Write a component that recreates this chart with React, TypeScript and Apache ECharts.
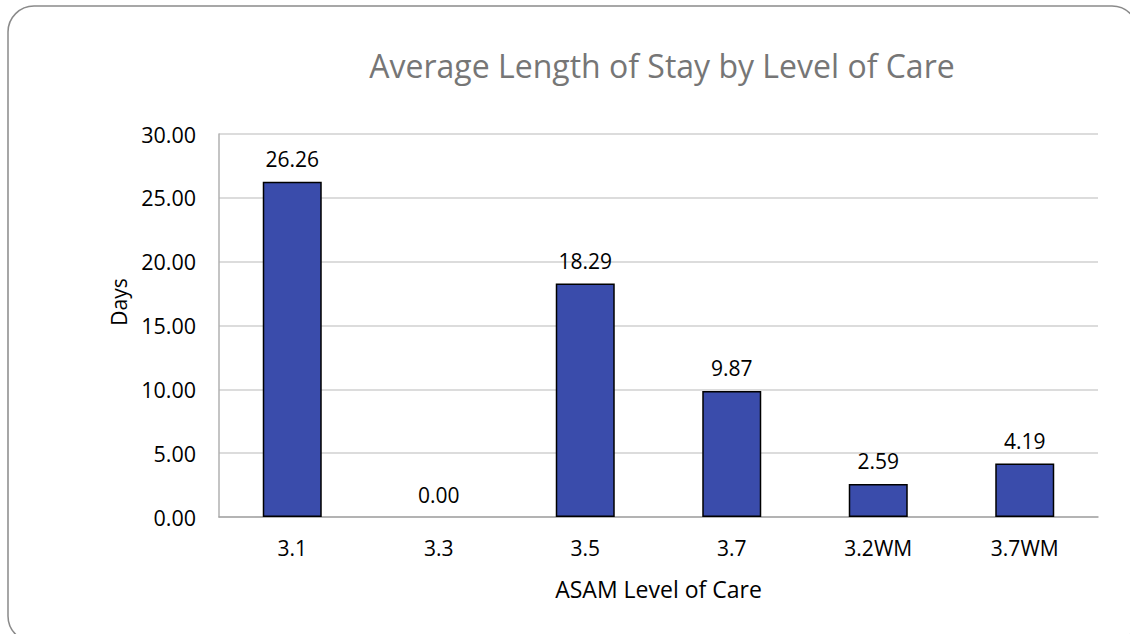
import React, { useEffect, useRef } from "react";
import * as echarts from "echarts";

const categories = ["3.1", "3.3", "3.5", "3.7", "3.2WM", "3.7WM"];
const avgDays = [26.26, 0.0, 18.29, 9.87, 2.59, 4.19];
const yTicks = { min: 0, max: 30, interval: 5 };

const FONT = "'Open Sans', 'Noto Sans', sans-serif";

export default function App() {
  const ref = useRef<HTMLDivElement>(null);

  useEffect(() => {
    if (!ref.current) return;
    const chart = echarts.init(ref.current, null, { renderer: "svg" });
    chart.setOption({
      animation: false,
      backgroundColor: "#ffffff",
      textStyle: { fontFamily: FONT },
      title: {
        text: "Average Length of Stay by Level of Care",
        left: 657,
        top: 44,
        textAlign: "center",
        textStyle: { fontFamily: FONT, fontSize: 32, fontWeight: "normal", color: "#767676" },
      },
      graphic: [
        {
          type: "rect",
          shape: { x: 8, y: 6, width: 1130, height: 636, r: 26 },
          style: { fill: "none", stroke: "#8a8a8a", lineWidth: 1.5 },
          silent: true,
        },
        {
          type: "text",
          x: 119,
          y: 302,
          rotation: Math.PI / 2,
          style: {
            text: "Days",
            fontFamily: FONT,
            fontSize: 21,
            fill: "#000000",
            align: "center",
            verticalAlign: "middle",
          },
        },
      ],
      grid: { left: 219, right: 32, top: 134, bottom: 117 },
      xAxis: {
        type: "category",
        data: categories,
        name: "ASAM Level of Care",
        nameLocation: "middle",
        nameGap: 60,
        nameTextStyle: { fontFamily: FONT, fontSize: 23, color: "#000000" },
        axisLine: { show: true, lineStyle: { color: "#a6a6a6", width: 1.5 } },
        axisTick: { show: false },
        axisLabel: { fontFamily: FONT, fontSize: 21, color: "#000000", margin: 20 },
      },
      yAxis: {
        type: "value",
        min: yTicks.min,
        max: yTicks.max,
        interval: yTicks.interval,
        axisLine: { show: true, lineStyle: { color: "#b0b0b0", width: 1.5 } },
        axisTick: { show: false },
        splitLine: { lineStyle: { color: "#d0d0d0", width: 1.5 } },
        axisLabel: {
          fontFamily: FONT,
          fontSize: 21.5,
          color: "#000000",
          margin: 23,
          formatter: (v: number) => v.toFixed(2),
        },
      },
      series: [
        {
          type: "bar",
          // a zero-height bar gets no outline
          data: avgDays.map((v) => ({
            value: v,
            itemStyle: v === 0 ? { borderWidth: 0 } : undefined,
          })),
          barWidth: 59,
          itemStyle: { color: "#3A4CAB", borderColor: "#000000", borderWidth: 1.5 },
          label: {
            show: true,
            position: "top",
            distance: 12,
            fontFamily: FONT,
            fontSize: 21,
            color: "#000000",
            formatter: (p: any) => Number(p.value).toFixed(2),
          },
        },
      ],
    });
    return () => chart.dispose();
  }, []);

  return (
    <div
      ref={ref}
      style={{ position: "absolute", left: 0, top: 0, width: 1130, height: 634 }}
    />
  );
}
